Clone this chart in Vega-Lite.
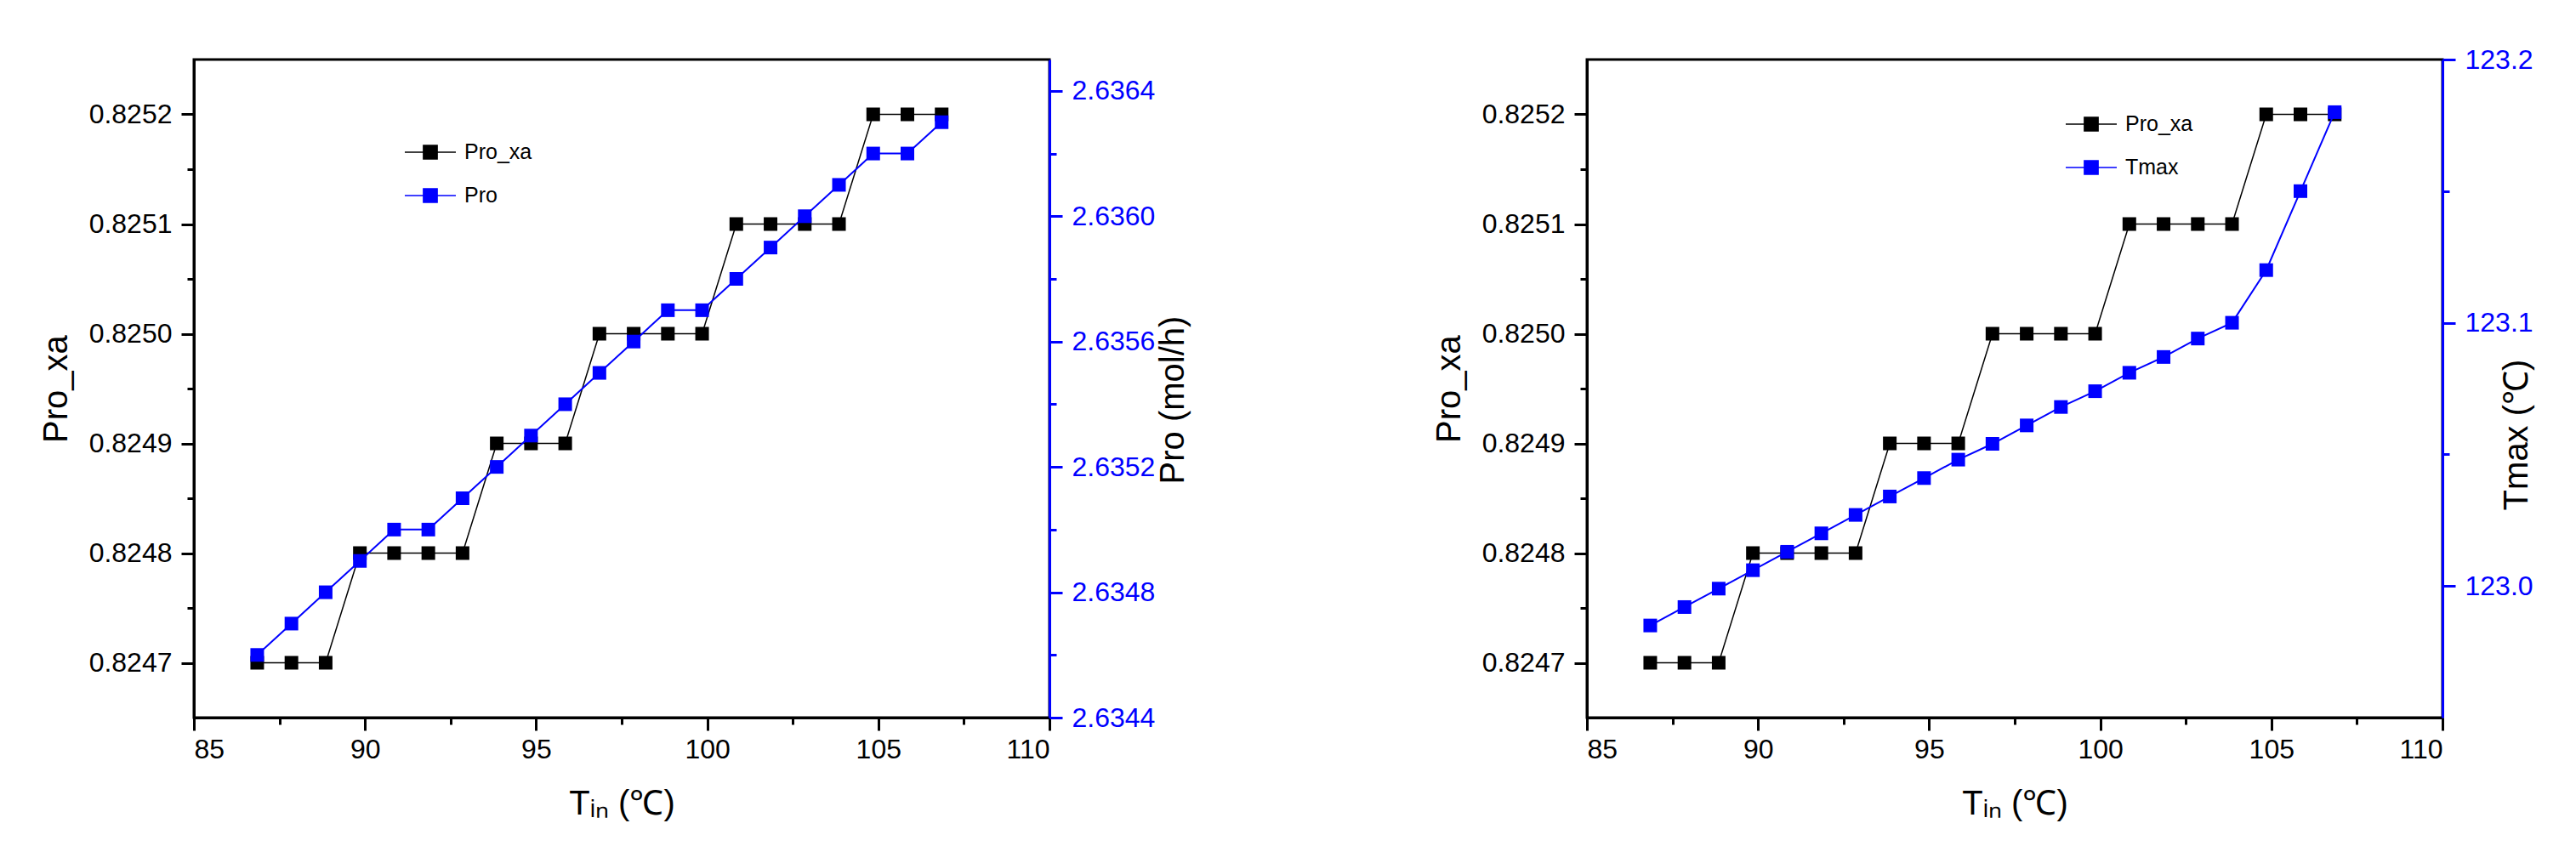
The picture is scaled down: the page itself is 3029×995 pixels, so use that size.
{
  "$schema": "https://vega.github.io/schema/vega-lite/v6.json",
  "background": "white",
  "autosize": {"type": "pad"},
  "padding": {"left": 44, "top": 52, "right": 5, "bottom": 5},
  "spacing": 632,
  "bounds": "flush",
  "datasets": {
    "d": [
      {"T": 86.85, "Pro_xa": 0.8247, "Pro": 2.6346, "Tmax": 122.985},
      {"T": 87.85, "Pro_xa": 0.8247, "Pro": 2.6347, "Tmax": 122.992},
      {"T": 88.85, "Pro_xa": 0.8247, "Pro": 2.6348, "Tmax": 122.999},
      {"T": 89.85, "Pro_xa": 0.8248, "Pro": 2.6349, "Tmax": 123.006},
      {"T": 90.85, "Pro_xa": 0.8248, "Pro": 2.6350, "Tmax": 123.013},
      {"T": 91.85, "Pro_xa": 0.8248, "Pro": 2.6350, "Tmax": 123.020},
      {"T": 92.85, "Pro_xa": 0.8248, "Pro": 2.6351, "Tmax": 123.027},
      {"T": 93.85, "Pro_xa": 0.8249, "Pro": 2.6352, "Tmax": 123.034},
      {"T": 94.85, "Pro_xa": 0.8249, "Pro": 2.6353, "Tmax": 123.041},
      {"T": 95.85, "Pro_xa": 0.8249, "Pro": 2.6354, "Tmax": 123.048},
      {"T": 96.85, "Pro_xa": 0.8250, "Pro": 2.6355, "Tmax": 123.054},
      {"T": 97.85, "Pro_xa": 0.8250, "Pro": 2.6356, "Tmax": 123.061},
      {"T": 98.85, "Pro_xa": 0.8250, "Pro": 2.6357, "Tmax": 123.068},
      {"T": 99.85, "Pro_xa": 0.8250, "Pro": 2.6357, "Tmax": 123.074},
      {"T": 100.85, "Pro_xa": 0.8251, "Pro": 2.6358, "Tmax": 123.081},
      {"T": 101.85, "Pro_xa": 0.8251, "Pro": 2.6359, "Tmax": 123.087},
      {"T": 102.85, "Pro_xa": 0.8251, "Pro": 2.6360, "Tmax": 123.094},
      {"T": 103.85, "Pro_xa": 0.8251, "Pro": 2.6361, "Tmax": 123.100},
      {"T": 104.85, "Pro_xa": 0.8252, "Pro": 2.6362, "Tmax": 123.120},
      {"T": 105.85, "Pro_xa": 0.8252, "Pro": 2.6362, "Tmax": 123.150},
      {"T": 106.85, "Pro_xa": 0.8252, "Pro": 2.6363, "Tmax": 123.180}
    ]
  },
  "config": {
    "font": "Liberation Sans",
    "view": {"stroke": "#000000", "strokeWidth": 3},
    "axis": {
      "grid": false,
      "labelFont": "Liberation Sans",
      "labelFontSize": 32,
      "labelColor": "#000000",
      "titleFont": "Liberation Sans",
      "titleFontSize": 40,
      "titleFontWeight": "normal",
      "titleColor": "#000000",
      "domainColor": "#000000",
      "domainWidth": 3,
      "tickColor": "#000000",
      "tickWidth": 3
    },
    "legend": {
      "title": null,
      "orient": "none",
      "symbolType": "M-1,0H-0.27M0.27,0H1M-0.27,-0.27H0.27V0.27H-0.27Z",
      "symbolSize": 3600,
      "symbolStrokeWidth": 1.5,
      "symbolOpacity": 1,
      "labelFont": "Liberation Sans",
      "labelFontSize": 25,
      "labelColor": "#000000",
      "labelOffset": 9,
      "rowPadding": 7
    }
  },
  "resolve": {"scale": {"fill": "independent", "stroke": "independent"}},
  "hconcat": [
    {
      "width": 1006,
      "height": 774,
      "data": {"name": "d"},
      "layer": [
        {
          "layer": [
            {
              "mark": {"type": "line", "strokeWidth": 1.5},
              "encoding": {
                "x": {"field": "T", "type": "quantitative", "scale": {"domain": [85, 110], "nice": false},
                  "axis": {"title": "Tᵢₙ (℃)", "values": [85, 87.5, 90, 92.5, 95, 97.5, 100, 102.5, 105, 107.5, 110], "format": "d",
                    "labelExpr": "datum.value % 5 === 0 ? datum.label : ''",
                    "tickSize": {"condition": {"test": "datum.value % 5 !== 0", "value": 8}, "value": 15},
                    "labelPadding": 7, "titlePadding": 28}},
                "y": {"field": "Pro_xa", "type": "quantitative", "scale": {"domain": [0.82465, 0.82525], "nice": false, "zero": false},
                  "axis": {"title": "Pro_xa", "values": [0.8247, 0.82475, 0.8248, 0.82485, 0.8249, 0.82495, 0.825, 0.82505, 0.8251, 0.82515, 0.8252], "format": ".4f",
                    "labelExpr": "round(datum.value*20000) % 2 === 1 ? '' : datum.label",
                    "tickSize": {"condition": {"test": "round(datum.value*20000) % 2 === 1", "value": 8}, "value": 15},
                    "labelPadding": 11, "titlePadding": 18}},
                "stroke": {"datum": "Pro_xa", "type": "nominal", "scale": {"domain": ["Pro_xa", "Pro"], "range": ["#000000", "#0000ff"]},
                  "legend": {"legendX": 247, "legendY": 78}}
              }
            },
            {
              "mark": {"type": "point", "shape": "square", "filled": true, "size": 256, "opacity": 1},
              "encoding": {
                "x": {"field": "T", "type": "quantitative"},
                "y": {"field": "Pro_xa", "type": "quantitative"},
                "fill": {"datum": "Pro_xa", "type": "nominal", "scale": {"domain": ["Pro_xa", "Pro"], "range": ["#000000", "#0000ff"]},
                  "legend": {"legendX": 247, "legendY": 78}}
              }
            }
          ]
        },
        {
          "layer": [
            {
              "mark": {"type": "line", "strokeWidth": 2},
              "encoding": {
                "x": {"field": "T", "type": "quantitative"},
                "y": {"field": "Pro", "type": "quantitative", "scale": {"domain": [2.6344, 2.6365], "nice": false, "zero": false},
                  "axis": {"title": "Pro (mol/h)", "orient": "right", "values": [2.6344, 2.6346, 2.6348, 2.635, 2.6352, 2.6354, 2.6356, 2.6358, 2.636, 2.6362, 2.6364], "format": ".4f",
                    "labelExpr": "round(datum.value*5000) % 2 === 1 ? '' : datum.label",
                    "tickSize": {"condition": {"test": "round(datum.value*5000) % 2 === 1", "value": 8}, "value": 15},
                    "labelPadding": 11, "titleAngle": 270, "titleX": 145, "titleY": 400, "titleBaseline": "middle", "titleAlign": "center",
                    "labelColor": "#0000ff", "domainColor": "#0000ff", "tickColor": "#0000ff"}},
                "stroke": {"datum": "Pro", "type": "nominal"}
              }
            },
            {
              "mark": {"type": "point", "shape": "square", "filled": true, "size": 256, "opacity": 1},
              "encoding": {
                "x": {"field": "T", "type": "quantitative"},
                "y": {"field": "Pro", "type": "quantitative"},
                "fill": {"datum": "Pro", "type": "nominal"}
              }
            }
          ]
        }
      ],
      "resolve": {"scale": {"y": "independent"}}
    },
    {
      "width": 1006,
      "height": 774,
      "data": {"name": "d"},
      "layer": [
        {
          "layer": [
            {
              "mark": {"type": "line", "strokeWidth": 1.5},
              "encoding": {
                "x": {"field": "T", "type": "quantitative", "scale": {"domain": [85, 110], "nice": false},
                  "axis": {"title": "Tᵢₙ (℃)", "values": [85, 87.5, 90, 92.5, 95, 97.5, 100, 102.5, 105, 107.5, 110], "format": "d",
                    "labelExpr": "datum.value % 5 === 0 ? datum.label : ''",
                    "tickSize": {"condition": {"test": "datum.value % 5 !== 0", "value": 8}, "value": 15},
                    "labelPadding": 7, "titlePadding": 28}},
                "y": {"field": "Pro_xa", "type": "quantitative", "scale": {"domain": [0.82465, 0.82525], "nice": false, "zero": false},
                  "axis": {"title": "Pro_xa", "values": [0.8247, 0.82475, 0.8248, 0.82485, 0.8249, 0.82495, 0.825, 0.82505, 0.8251, 0.82515, 0.8252], "format": ".4f",
                    "labelExpr": "round(datum.value*20000) % 2 === 1 ? '' : datum.label",
                    "tickSize": {"condition": {"test": "round(datum.value*20000) % 2 === 1", "value": 8}, "value": 15},
                    "labelPadding": 11, "titlePadding": 18}},
                "stroke": {"datum": "Pro_xa", "type": "nominal", "scale": {"domain": ["Pro_xa", "Tmax"], "range": ["#000000", "#0000ff"]},
                  "legend": {"legendX": 562, "legendY": 45}}
              }
            },
            {
              "mark": {"type": "point", "shape": "square", "filled": true, "size": 256, "opacity": 1},
              "encoding": {
                "x": {"field": "T", "type": "quantitative"},
                "y": {"field": "Pro_xa", "type": "quantitative"},
                "fill": {"datum": "Pro_xa", "type": "nominal", "scale": {"domain": ["Pro_xa", "Tmax"], "range": ["#000000", "#0000ff"]},
                  "legend": {"legendX": 562, "legendY": 45}}
              }
            }
          ]
        },
        {
          "layer": [
            {
              "mark": {"type": "line", "strokeWidth": 2},
              "encoding": {
                "x": {"field": "T", "type": "quantitative"},
                "y": {"field": "Tmax", "type": "quantitative", "scale": {"domain": [122.95, 123.2], "nice": false, "zero": false},
                  "axis": {"title": "Tmax (℃)", "orient": "right", "values": [123.0, 123.05, 123.1, 123.15, 123.2], "format": ".1f",
                    "labelExpr": "round(datum.value*20) % 2 === 1 ? '' : datum.label",
                    "tickSize": {"condition": {"test": "round(datum.value*20) % 2 === 1", "value": 8}, "value": 15},
                    "labelPadding": 11, "titleAngle": 270, "titleX": 87, "titleY": 441, "titleBaseline": "middle", "titleAlign": "center",
                    "labelColor": "#0000ff", "domainColor": "#0000ff", "tickColor": "#0000ff"}},
                "stroke": {"datum": "Tmax", "type": "nominal"}
              }
            },
            {
              "mark": {"type": "point", "shape": "square", "filled": true, "size": 256, "opacity": 1},
              "encoding": {
                "x": {"field": "T", "type": "quantitative"},
                "y": {"field": "Tmax", "type": "quantitative"},
                "fill": {"datum": "Tmax", "type": "nominal"}
              }
            }
          ]
        }
      ],
      "resolve": {"scale": {"y": "independent"}}
    }
  ]
}
